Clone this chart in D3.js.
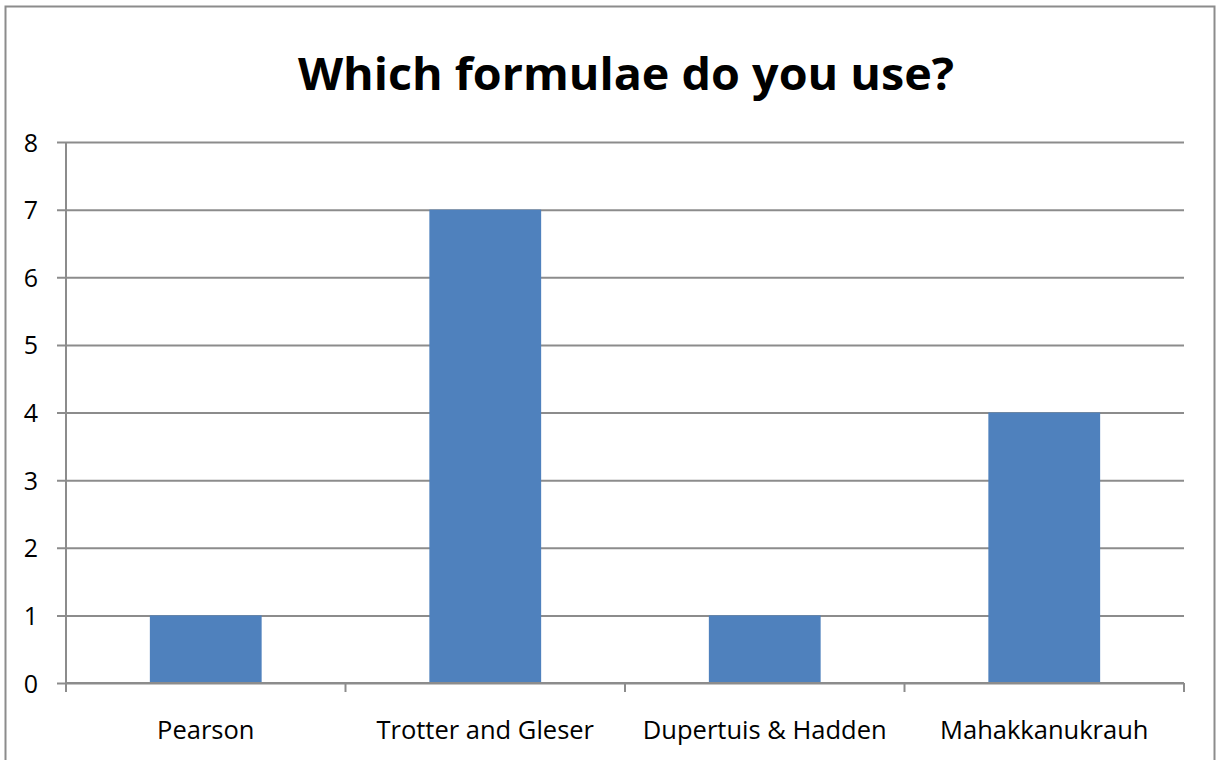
<!DOCTYPE html>
<html>
<head>
<meta charset="utf-8">
<script src="https://cdn.jsdelivr.net/npm/d3@7"></script>
<style>
    body { margin: 0; background: #fff; }
    svg text { font-family: "Open Sans", "Liberation Sans", sans-serif; fill: #000; }
</style>
</head>
<body>
<div id="chart"></div>
<script>
const chartTitle = "Which formulae do you use?";
const categories = ["Pearson", "Trotter and Gleser", "Dupertuis & Hadden", "Mahakkanukrauh"];
const counts = [1, 7, 1, 4];
const yTicks = [0, 1, 2, 3, 4, 5, 6, 7, 8];

const width = 1219;
const height = 760;
const margin = { top: 142, right: 35, bottom: 77, left: 66 };
const innerW = width - margin.left - margin.right;
const innerH = height - margin.top - margin.bottom;

const svg = d3.select("#chart")
    .append("svg")
    .attr("width", width)
    .attr("height", height);

// outer frame
svg.append("rect")
    .attr("x", 5.5)
    .attr("y", 6.5)
    .attr("width", 1209)
    .attr("height", 770)
    .attr("fill", "none")
    .attr("stroke", "#8c8c8c")
    .attr("stroke-width", 2);

svg.append("text")
    .attr("x", 626)
    .attr("y", 90)
    .attr("text-anchor", "middle")
    .attr("font-size", "44px")
    .attr("font-weight", "bold")
    .attr("textLength", 656)
    .attr("lengthAdjust", "spacingAndGlyphs")
    .text(chartTitle);

const g = svg.append("g")
    .attr("transform", `translate(${margin.left},${margin.top})`);

const x = d3.scaleBand()
    .domain(categories)
    .range([0, innerW])
    .paddingInner(0.6)
    .paddingOuter(0.3);

const y = d3.scaleLinear()
    .domain([0, 8])
    .range([innerH, 0]);

// gridlines + left ticks
const yAxis = g.append("g")
    .call(d3.axisLeft(y).tickValues(yTicks).tickSize(-innerW).tickFormat(d3.format("d")));
yAxis.select(".domain").remove();
yAxis.selectAll(".tick line")
    .attr("x1", -9)
    .attr("stroke", "#8c8c8c")
    .attr("stroke-width", 2);
yAxis.selectAll(".tick text")
    .attr("font-size", "25px")
    .attr("text-anchor", "middle")
    .attr("x", -35)
    .attr("dy", "0.36em");

g.append("line")
    .attr("x1", 0).attr("x2", 0)
    .attr("y1", 0).attr("y2", innerH)
    .attr("stroke", "#8c8c8c")
    .attr("stroke-width", 2);

g.selectAll(".bar")
    .data(categories)
    .enter()
    .append("rect")
    .attr("class", "bar")
    .attr("x", d => x(d))
    .attr("y", (d, i) => y(counts[i]))
    .attr("width", x.bandwidth())
    .attr("height", (d, i) => innerH - y(counts[i]))
    .attr("fill", "#4f81bd");

// x axis with ticks at category boundaries
g.append("line")
    .attr("x1", 0).attr("x2", innerW)
    .attr("y1", innerH).attr("y2", innerH)
    .attr("stroke", "#8c8c8c")
    .attr("stroke-width", 2);

const bounds = d3.range(categories.length + 1).map(i => i * innerW / categories.length);
g.selectAll(".xtick")
    .data(bounds)
    .enter()
    .append("line")
    .attr("x1", d => d).attr("x2", d => d)
    .attr("y1", innerH).attr("y2", innerH + 9)
    .attr("stroke", "#8c8c8c")
    .attr("stroke-width", 2);

g.selectAll(".xlabel")
    .data(categories)
    .enter()
    .append("text")
    .attr("x", d => x(d) + x.bandwidth() / 2)
    .attr("y", innerH + 56)
    .attr("text-anchor", "middle")
    .attr("font-size", "25.5px")
    .text(d => d);
</script>
</body>
</html>
